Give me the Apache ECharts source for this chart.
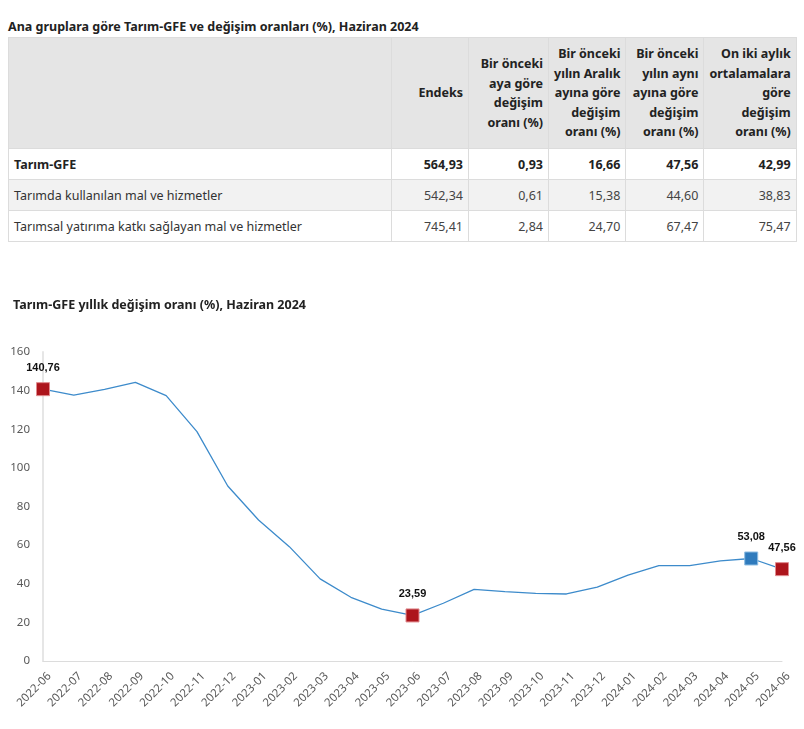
<!DOCTYPE html>
<html>
<head>
<meta charset="utf-8">
<script src="https://cdn.jsdelivr.net/npm/echarts@6/dist/echarts.min.js"></script>
<style>
  html, body { margin: 0; padding: 0; background: #fff; width: 804px; height: 729px; overflow: hidden; }
  body { font-family: "Noto Sans", "Open Sans", sans-serif; color: #222; position: relative; }
  #t1 { position: absolute; left: 8px; top: 18px; font-size: 12.5px; font-weight: bold; color: #222; white-space: nowrap; }
  table { position: absolute; left: 8px; top: 37px; border-collapse: collapse; font-size: 12.5px; table-layout: fixed; }
  td, th { border: 1px solid #dcdcdc; padding: 0 5px; white-space: nowrap; }
  thead th { background: #e5e5e5; height: 110px; text-align: right; vertical-align: middle; line-height: 19.5px; font-weight: bold; color: #222; }
  tbody td { height: 30px; text-align: right; color: #444; }
  tbody td:first-child { text-align: left; color: #333; }
  tbody tr.b td { font-weight: bold; color: #222; }
  tbody tr.g td { background: #f2f2f2; }
  #chart { position: absolute; left: 0; top: 280px; width: 804px; height: 449px; }
</style>
</head>
<body>
<div id="t1"></div>
<table id="tbl"><colgroup id="cg"></colgroup><thead><tr id="hr"></tr></thead><tbody id="tb"></tbody></table>
<div id="chart"></div>
<script>
// ---- Table data ----
const tableTitle = "Ana gruplara göre Tarım-GFE ve değişim oranları (%), Haziran 2024";
const tableHeaders = ["", "Endeks", "Bir önceki\naya göre\ndeğişim\noranı (%)", "Bir önceki\nyılın Aralık\nayına göre\ndeğişim\noranı (%)", "Bir önceki\nyılın aynı\nayına göre\ndeğişim\noranı (%)", "On iki aylık\nortalamalara\ngöre\ndeğişim\noranı (%)"];
const rowLabels = ["Tarım-GFE", "Tarımda kullanılan mal ve hizmetler", "Tarımsal yatırıma katkı sağlayan mal ve hizmetler"];
const rowTarimGFE = ["564,93", "0,93", "16,66", "47,56", "42,99"];
const rowKullanilan = ["542,34", "0,61", "15,38", "44,60", "38,83"];
const rowYatirim = ["745,41", "2,84", "24,70", "67,47", "75,47"];

// ---- Chart data ----
const chartTitle = "Tarım-GFE yıllık değişim oranı (%), Haziran 2024";
const months = ["2022-06","2022-07","2022-08","2022-09","2022-10","2022-11","2022-12","2023-01","2023-02","2023-03","2023-04","2023-05","2023-06","2023-07","2023-08","2023-09","2023-10","2023-11","2023-12","2024-01","2024-02","2024-03","2024-04","2024-05","2024-06"];
const annualChange = [140.76, 137.7, 140.6, 144.3, 137.4, 118.8, 90.6, 73.0, 59.2, 42.5, 33.0, 26.9, 23.59, 29.9, 37.1, 35.9, 35.0, 34.7, 38.2, 44.5, 49.4, 49.4, 51.8, 53.08, 47.56];
const redMarked = ["2022-06", "2023-06", "2024-06"];
const blueMarked = ["2024-05"];
const yTicks = [0, 20, 40, 60, 80, 100, 120, 140, 160];

// ---- Build table ----
document.getElementById('t1').textContent = tableTitle;
const colWidths = [383, 77, 80, 77, 78, 92];
const cg = document.getElementById('cg');
colWidths.forEach(w => { const c = document.createElement('col'); c.style.width = w + 'px'; cg.appendChild(c); });
const hr = document.getElementById('hr');
tableHeaders.forEach(h => {
  const th = document.createElement('th');
  h.split('\n').forEach((line, i) => { if (i) th.appendChild(document.createElement('br')); th.appendChild(document.createTextNode(line)); });
  hr.appendChild(th);
});
const tb = document.getElementById('tb');
[rowTarimGFE, rowKullanilan, rowYatirim].forEach((vals, r) => {
  const tr = document.createElement('tr');
  if (r === 0) tr.className = 'b';
  if (r === 1) tr.className = 'g';
  [rowLabels[r]].concat(vals).forEach(v => { const td = document.createElement('td'); td.textContent = v; tr.appendChild(td); });
  tb.appendChild(tr);
});

// ---- Chart ----
const RED = '#ad151c', BLUE = '#2f7bbd', LINE = '#3d8bcb';
const seriesData = annualChange.map((v, i) => {
  const m = months[i];
  const isRed = redMarked.includes(m), isBlue = blueMarked.includes(m);
  if (!isRed && !isBlue) return { value: v };
  const col = isRed ? RED : BLUE;
  return {
    value: v,
    symbol: 'rect',
    symbolSize: 13,
    itemStyle: { color: col, borderColor: isRed ? '#e08a8e' : '#8fbde3', borderWidth: 1 },
    label: { show: true }
  };
});
const chart = echarts.init(document.getElementById('chart'), null, { renderer: 'canvas' });
chart.setOption({
  animation: false,
  title: { text: chartTitle, left: 8, top: 14, textStyle: { fontFamily: 'Noto Sans', fontSize: 12.5, fontWeight: 'bold', color: '#222' } },
  grid: { left: 43, right: 22, top: 72, bottom: 68, containLabel: false },
  xAxis: {
    type: 'category', data: months, boundaryGap: false,
    axisLine: { show: true, lineStyle: { color: '#dcdcdc', width: 1 } },
    axisTick: { show: false },
    axisLabel: { rotate: 45, margin: 7, verticalAlign: 'top', padding: [3, 0, 0, 0], color: '#595959', fontSize: 11.5, fontFamily: 'Noto Sans', interval: 0 },
    splitLine: { show: false }
  },
  yAxis: {
    type: 'value', min: yTicks[0], max: yTicks[yTicks.length - 1], interval: 20,
    axisLine: { show: true, lineStyle: { color: '#e6e6e6', width: 2 } },
    axisTick: { show: false },
    axisLabel: { margin: 13, color: '#595959', fontSize: 11.5, fontFamily: 'Noto Sans' },
    splitLine: { show: false }
  },
  series: [{
    type: 'line', data: seriesData, symbol: 'none', showAllSymbol: true,
    lineStyle: { color: LINE, width: 1.3 },
    itemStyle: { color: LINE },
    label: {
      show: false, position: 'top', distance: 9,
      fontFamily: 'Liberation Sans, Arial', fontWeight: 'bold', fontSize: 11, color: '#111',
      formatter: p => p.value.toFixed(2).replace('.', ',')
    },
    z: 3
  }]
});
</script>
</body>
</html>
